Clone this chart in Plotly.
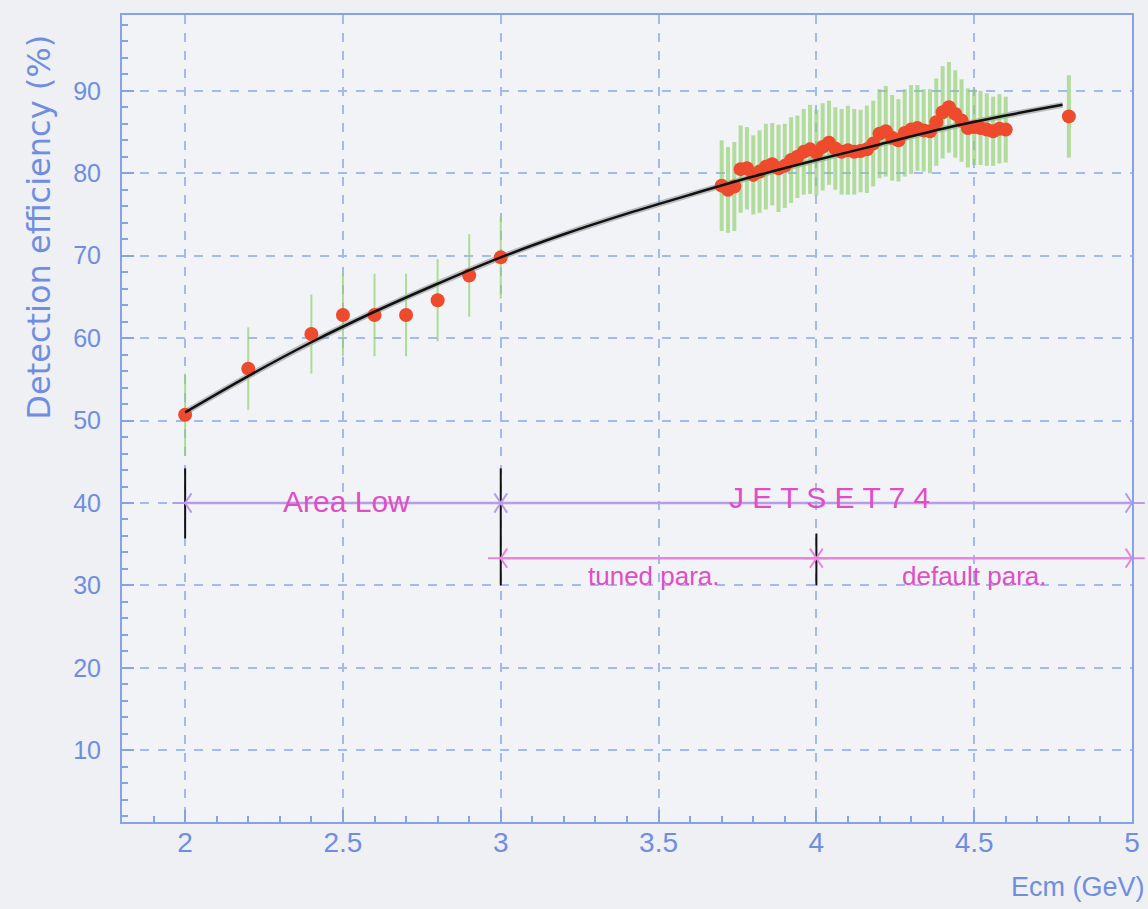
import plotly.graph_objects as go

# Low-energy points (Area Law)
low_x = [2.0, 2.2, 2.4, 2.5, 2.6, 2.7, 2.8, 2.9, 3.0]
low_y = [50.7, 56.3, 60.5, 62.8, 62.8, 62.8, 64.6, 67.6, 69.8]
low_err = [5.0, 5.0, 4.8, 5.0, 5.0, 5.0, 5.0, 5.0, 5.0]

# Dense points (JETSET74)
hi_x = [3.70, 3.72, 3.74, 3.76, 3.78, 3.80, 3.82, 3.84, 3.86, 3.88, 3.90, 3.92,
        3.94, 3.96, 3.98, 4.00, 4.02, 4.04, 4.06, 4.08, 4.10, 4.12, 4.14, 4.16,
        4.18, 4.20, 4.22, 4.24, 4.26, 4.28, 4.30, 4.32, 4.34, 4.36, 4.38, 4.40,
        4.42, 4.44, 4.46, 4.48, 4.50, 4.52, 4.54, 4.56, 4.58, 4.60, 4.80]
hi_y = [78.5, 78.0, 78.4, 80.5, 80.6, 79.8, 80.2, 80.8, 81.1, 80.6, 80.9, 81.6,
        82.0, 82.6, 82.9, 82.5, 83.2, 83.7, 83.0, 82.6, 82.8, 82.6, 82.7, 82.9,
        83.6, 84.8, 85.1, 84.3, 84.0, 84.9, 85.3, 85.5, 85.2, 85.1, 86.2, 87.4,
        88.0, 87.2, 86.4, 85.5, 85.6, 85.5, 85.3, 85.1, 85.4, 85.3, 86.9]
hi_err = [5.5, 5.2, 5.4, 5.3, 5.0, 4.8, 5.0, 5.2, 5.0, 5.3, 5.1, 5.2,
          5.0, 5.2, 5.4, 5.2, 5.3, 5.1, 5.0, 5.2, 5.4, 5.2, 5.0, 5.3,
          5.2, 5.4, 5.5, 5.2, 5.0, 5.3, 5.4, 5.2, 5.0, 5.1, 5.3, 5.6,
          5.5, 5.3, 5.0, 4.8, 4.6, 4.5, 4.4, 4.2, 4.2, 4.0, 5.0]

# Fit curve
fit_x = [2.0, 2.2, 2.4, 2.6, 2.8, 3.0, 3.2, 3.4, 3.6, 3.8, 4.0, 4.2, 4.4, 4.6, 4.78]
fit_y = [51.0, 55.4, 59.5, 63.2, 66.6, 69.8, 72.6, 75.1, 77.4, 79.6, 81.6, 83.5, 85.4, 87.0, 88.3]

# Model-range arrows
span_start = [2.0, 3.0, 3.0, 4.0]
span_end = [3.0, 5.0, 4.0, 5.0]
span_y = [40.0, 40.0, 33.3, 33.3]
span_color = ["#b99be8", "#b99be8", "#e884dc", "#e884dc"]

# Black boundary markers
bound_x = [2.0, 3.0, 4.0]
bound_lo = [35.7, 30.0, 30.0]
bound_hi = [44.2, 44.2, 36.3]

# Labels
label_text = ["Area Low", "J E T S E T 7 4", "tuned para.", "default para."]
label_x = [2.51, 4.04, 3.485, 4.50]
label_y = [40.2, 40.7, 31.2, 31.2]
label_size = [30, 30, 26, 26]

x_ticks = [2, 2.5, 3, 3.5, 4, 4.5, 5]
x_tick_labels = ["2", "2.5", "3", "3.5", "4", "4.5", "5"]
y_ticks = [10, 20, 30, 40, 50, 60, 70, 80, 90]

BLUE = "#6f8ee0"
GRID = "#a3baef"
AXIS = "#86a3ea"
RED = "#ee4a2d"
MAG = "#e04ec6"

fig = go.Figure()

# black boundary lines
for bx, lo, hi in zip(bound_x, bound_lo, bound_hi):
    fig.add_trace(go.Scatter(x=[bx, bx], y=[lo, hi], mode="lines",
                             line=dict(color="#111111", width=2), hoverinfo="skip", showlegend=False))

# range arrows
for x0, x1, yy, col in zip(span_start, span_end, span_y, span_color):
    fig.add_trace(go.Scatter(x=[x0, x1], y=[yy, yy], mode="lines",
                             line=dict(color=col, width=2.5), hoverinfo="skip", showlegend=False))
    fig.add_trace(go.Scatter(x=[x0], y=[yy], mode="markers", cliponaxis=False,
                             marker=dict(symbol="y-left-open", size=16, color=col, line=dict(color=col, width=2)),
                             hoverinfo="skip", showlegend=False))
    fig.add_trace(go.Scatter(x=[x1], y=[yy], mode="markers", cliponaxis=False,
                             marker=dict(symbol="y-right-open", size=16, color=col, line=dict(color=col, width=2)),
                             hoverinfo="skip", showlegend=False))

# fit shadow
fig.add_trace(go.Scatter(
    x=fit_x, y=fit_y, mode="lines", line=dict(color="rgba(120,120,120,0.45)", width=6, shape="spline"),
    hoverinfo="skip", showlegend=False))

fig.add_trace(go.Scatter(
    x=low_x, y=low_y, mode="markers",
    marker=dict(color=RED, size=14, line=dict(width=0)),
    error_y=dict(type="data", array=low_err, visible=True, color="rgba(145,208,110,0.7)",
                 thickness=2, width=0),
    showlegend=False))
fig.add_trace(go.Scatter(
    x=hi_x, y=hi_y, mode="markers",
    marker=dict(color=RED, size=14, line=dict(width=0)),
    error_y=dict(type="data", array=hi_err, visible=True, color="rgba(135,205,95,0.6)",
                 thickness=4, width=0),
    showlegend=False))

fig.add_trace(go.Scatter(
    x=fit_x, y=fit_y, mode="lines", line=dict(color="#111111", width=2.5, shape="spline"),
    showlegend=False))

annotations = []
for t, lx, ly, ls in zip(label_text, label_x, label_y, label_size):
    annotations.append(dict(x=lx, y=ly, xref="x", yref="y", text=t, showarrow=False,
                            font=dict(family="Liberation Sans", size=ls, color=MAG)))

pw, ph = 1148 - 122 - 8, 909 - 15 - 87
annotations.append(dict(x=(38 - 122) / pw, y=1 - (227 - 15) / ph, xref="paper", yref="paper",
                        text="Detection efficiency (%)", showarrow=False, textangle=-90,
                        xanchor="center", yanchor="middle",
                        font=dict(family="DejaVu Sans", size=32, color=BLUE)))
annotations.append(dict(x=(1155 - 122) / pw, y=1 - (887 - 15) / ph, xref="paper", yref="paper",
                        text="Ecm (GeV)", showarrow=False, xanchor="right", yanchor="middle",
                        font=dict(family="Liberation Sans", size=27, color=BLUE)))

fig.update_layout(
    width=1148, height=909,
    margin=dict(l=122, r=8, t=15, b=87),
    paper_bgcolor="#eef0f3", plot_bgcolor="#f1f3f6",
    annotations=annotations,
    font=dict(family="Liberation Sans", color=BLUE, size=20),
    xaxis=dict(range=[1.8, 5.0], tickvals=x_ticks, ticktext=x_tick_labels,
               showgrid=True, gridcolor=GRID, gridwidth=1.5, griddash="dash",
               showline=True, linecolor=AXIS, linewidth=2, mirror=True,
               ticks="inside", ticklen=12, tickcolor=AXIS, tickwidth=1.5,
               minor=dict(ticks="inside", dtick=0.1, ticklen=6, tickcolor=AXIS, showgrid=False),
               tickfont=dict(family="Liberation Sans", size=28, color=BLUE),
               ticklabelstandoff=-6,
               zeroline=False),
    yaxis=dict(range=[1.3, 99.2], tickvals=y_ticks,
               showgrid=True, gridcolor=GRID, gridwidth=1.5, griddash="dash",
               showline=True, linecolor=AXIS, linewidth=2, mirror=True,
               ticks="inside", ticklen=12, tickcolor=AXIS, tickwidth=1.5,
               minor=dict(ticks="inside", dtick=2, ticklen=6, tickcolor=AXIS, showgrid=False),
               tickfont=dict(family="Liberation Sans", size=25, color=BLUE),
               ticklabelstandoff=14,
               zeroline=False),
)

fig.write_html("out.html")
